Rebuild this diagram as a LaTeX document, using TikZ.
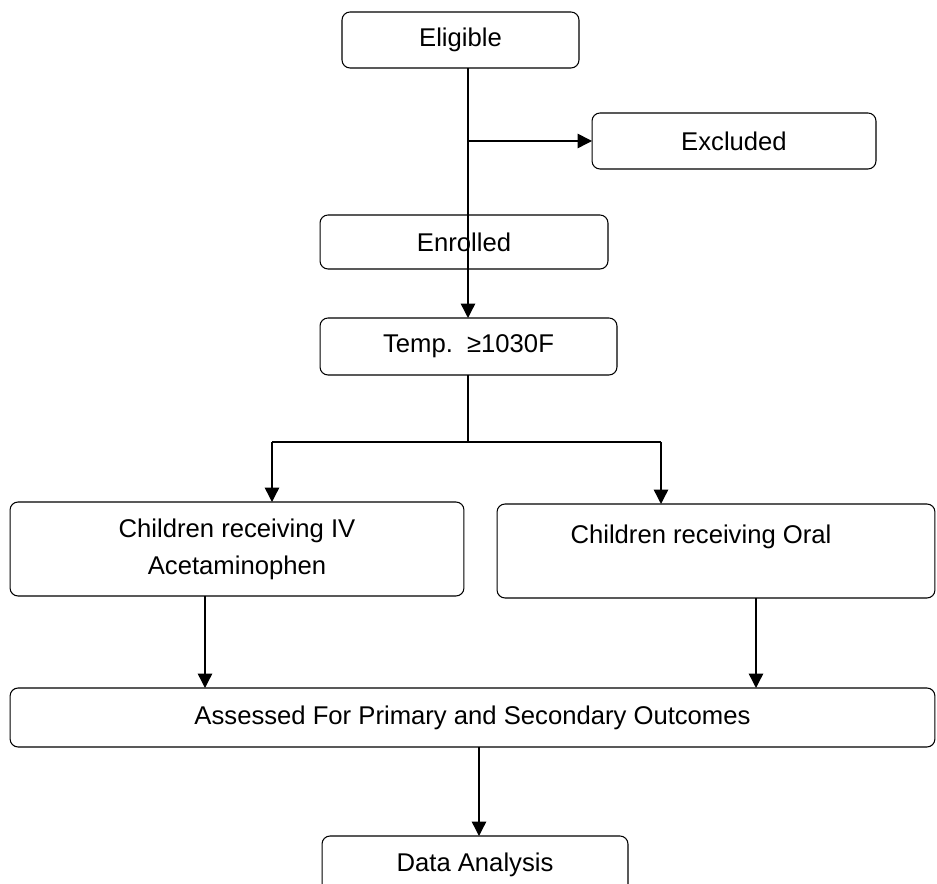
\documentclass[tikz,border=0pt]{standalone}
\usepackage{fontspec}
\setmainfont{Liberation Sans}
\usetikzlibrary{positioning, arrows.meta}

\begin{document}
\begin{tikzpicture}[
        x=0.02cm, y=-0.02cm,
        box/.style={rectangle, draw=black, line width=0.6pt, rounded corners=0.16cm, outer sep=0pt, inner sep=0pt, align=center, font=\fontsize{14.6}{21}\selectfont},
        arrow/.style={-{Triangle[length=0.29cm, width=0.29cm]}, line width=0.8pt},
        link/.style={line width=0.8pt}
    ]
        \useasboundingbox (0,0) rectangle (937,884);
        \clip (0,0) rectangle (937,884);

        % Screening
        \node[box, minimum width=4.74cm, minimum height=1.12cm] (eligible) at (460.5,40) {Eligible};
        \node[box, minimum width=5.68cm, minimum height=1.12cm] (excluded) at (734,141) {Excluded};
        \node[box, minimum width=5.76cm, minimum height=1.08cm] (enrolled) at (464,242) {Enrolled};
        \node[box, minimum width=5.94cm, minimum height=1.14cm] (temp) at (468.5,346.5) {Temp.\ \ ≥1030F};

        \coordinate (spine) at (468,0);
        \draw[arrow] (eligible.south -| spine) -- (temp.north -| spine);
        \draw[arrow] (excluded.west -| spine) -- (excluded.west);

        % Groups
        \node[box, minimum width=9.08cm, minimum height=1.88cm] (ivgroup) at (237,549) {Children receiving IV\\Acetaminophen};
        \node[box, minimum width=8.76cm, minimum height=1.88cm] (oralgroup) at (716,551) {};
        \node[font=\fontsize{14.6}{21}\selectfont, inner sep=0pt] (oraltext) at (701,537) {Children receiving Oral};

        \coordinate (forkL) at (272,442);
        \coordinate (forkR) at (661,442);
        \draw[link] (temp.south -| spine) -- (spine |- forkL);
        \draw[link] (forkL) -- (forkR);
        \draw[arrow] (forkL) -- (ivgroup.north -| forkL);
        \draw[arrow] (forkR) -- (oralgroup.north -| forkR);

        % Outcomes
        \node[box, minimum width=18.5cm, minimum height=1.18cm] (assessed) at (472.5,717.5) {Assessed For Primary and Secondary Outcomes};
        \node[box, minimum width=6.12cm, minimum height=1.16cm] (analysis) at (475,865) {Data Analysis};

        \coordinate (ivdrop) at (205,0);
        \coordinate (oraldrop) at (756,0);
        \coordinate (enddrop) at (479,0);
        \draw[arrow] (ivgroup.south -| ivdrop) -- (assessed.north -| ivdrop);
        \draw[arrow] (oralgroup.south -| oraldrop) -- (assessed.north -| oraldrop);
        \draw[arrow] (assessed.south -| enddrop) -- (analysis.north -| enddrop);
    \end{tikzpicture}
\end{document}
